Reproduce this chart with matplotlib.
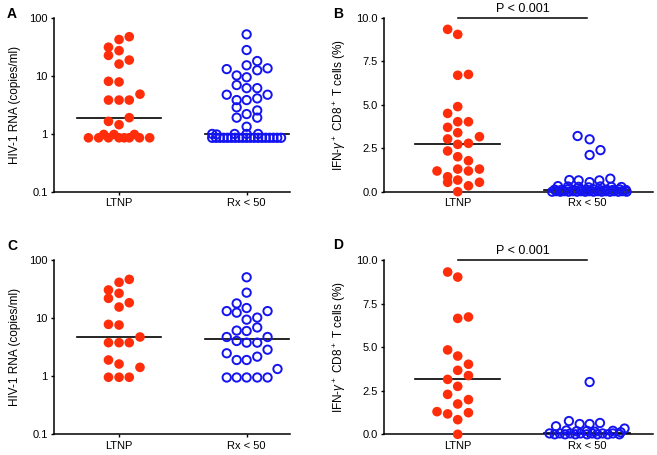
import matplotlib
matplotlib.use("Agg")
import matplotlib.pyplot as plt
from matplotlib.ticker import NullLocator
import numpy as np

plt.rcParams['font.family'] = ['Liberation Sans', 'DejaVu Sans']
plt.rcParams['mathtext.fontset'] = 'custom'
plt.rcParams['mathtext.rm'] = 'Liberation Sans'
plt.rcParams['mathtext.it'] = 'Liberation Sans:italic'

RED = '#ff2d0a'
BLUE = '#1414f0'

groups = ['LTNP', 'Rx < 50']

# A: HIV-1 RNA, all subjects (dx = horizontal column offset of each dot as drawn)
a_ltnp = [47, 42, 31, 27, 22.4, 18.6, 15.9, 8.0, 7.8, 4.8, 3.8, 3.8, 3.8, 1.89, 1.63, 1.43,
          0.85, 0.85, 0.97, 0.85, 0.97, 0.85, 0.85, 0.85, 0.97, 0.85, 0.85]
a_ltnp_dx = [0.08, 0, -0.083, 0, -0.083, 0.08, 0, -0.083, 0, 0.164, -0.083, 0, 0.08, 0.08, -0.083, 0,
             -0.24, -0.16, -0.12, -0.083, -0.04, 0, 0.04, 0.08, 0.12, 0.16, 0.24]
a_rx = [51.6, 27.7, 17.9, 15.1, 13.0, 12.4, 13.4, 10.1, 9.4, 6.9, 6.1, 6.1, 4.7, 4.7, 3.8, 3.8, 4.06,
        2.85, 2.52, 2.18, 1.89, 1.89, 1.32,
        0.99, 0.97, 0.99, 0.99, 0.99,
        0.85, 0.85, 0.85, 0.85, 0.85, 0.85, 0.85, 0.85, 0.85, 0.85,
        0.85, 0.85, 0.85, 0.85, 0.85, 0.85, 0.85, 0.85, 0.85]
a_rx_dx = [0, 0, 0.083, 0, -0.156, 0.083, 0.164, -0.078, 0, -0.078, 0, 0.083, -0.156, 0.164, -0.078, 0, 0.083,
           -0.078, 0.083, 0, -0.078, 0.083, 0,
           -0.27, -0.235, -0.094, 0, 0.09,
           -0.27, -0.24, -0.21, -0.18, -0.15, -0.12, -0.09, -0.06, -0.03, 0.0,
           0.03, 0.06, 0.09, 0.12, 0.15, 0.18, 0.21, 0.24, 0.27]

# B: IFN-gamma+ CD8+ T cells, all subjects
b_ltnp = [9.33, 9.04, 6.69, 6.74, 4.89, 4.5, 4.02, 4.02, 3.70, 3.39, 3.03, 3.16, 2.72, 2.78,
          2.34, 2.01, 1.78, 1.19, 0.86, 1.30, 1.19, 1.30, 0.54, 0.67, 0.34, 0.54, 0.0]
b_ltnp_dx = [-0.078, 0, 0, 0.083, 0, -0.078, 0, 0.083, -0.078, 0, -0.078, 0.168, 0, 0.083,
             -0.078, 0, 0.083, -0.16, -0.078, 0, 0.083, 0.168, -0.078, 0, 0.083, 0.168, 0]
b_rx = [3.2, 3.01, 2.11, 2.39,
        0.67, 0.65, 0.55, 0.65, 0.75,
        0.32, 0.3, 0.28, 0.25, 0.3, 0.28, 0.27,
        0.12, 0.1, 0.14, 0.1, 0.12, 0.1, 0.14, 0.1, 0.12, 0.1, 0.14, 0.1,
        0.0, 0.03, 0.0, 0.03, 0.0, 0.03, 0.0, 0.03, 0.0, 0.03,
        0.0, 0.03, 0.0, 0.03, 0.0, 0.03, 0.0, 0.03, 0.0]
b_rx_dx = [-0.073, 0.02, 0.02, 0.104,
           -0.137, -0.065, 0.02, 0.095, 0.18,
           -0.225, -0.147, -0.065, 0.012, 0.103, 0.188, 0.266,
           -0.25, -0.2, -0.15, -0.1, -0.05, 0.0, 0.05, 0.1, 0.15, 0.2, 0.25, 0.3,
           -0.27, -0.238, -0.206, -0.174, -0.142, -0.11, -0.078, -0.046, -0.014, 0.018,
           0.05, 0.082, 0.114, 0.146, 0.178, 0.21, 0.242, 0.274, 0.306]

# C: HIV-1 RNA, matched subset
c_ltnp = [46.4, 41.3, 30.5, 26.7, 21.9, 18.4, 15.5, 7.8, 7.6, 4.73, 3.78, 3.78, 3.78,
          1.90, 1.62, 1.42, 0.96, 0.96, 0.96]
c_ltnp_dx = [0.08, 0, -0.083, 0, -0.083, 0.08, 0, -0.083, 0, 0.164, -0.083, 0, 0.08,
             -0.083, 0, 0.164, -0.083, 0, 0.08]
c_rx = [50.4, 27.4, 17.9, 14.9, 13.2, 12.4, 13.2, 10.2, 9.4, 6.9, 6.1, 6.0, 4.73, 4.73, 4.04,
        3.78, 3.78, 2.86, 2.48, 2.17, 1.90, 1.90, 1.33, 0.95, 0.95, 0.95, 0.95, 0.95]
c_rx_dx = [0, 0, -0.078, 0, -0.156, -0.078, 0.164, 0.083, 0, 0.083, -0.078, 0, -0.156, 0.164, -0.078,
           0, 0.083, 0.164, -0.156, 0.083, -0.078, 0, 0.242, -0.156, -0.078, 0, 0.083, 0.164]

# D: IFN-gamma+ CD8+ T cells, matched subset
d_ltnp = [9.31, 9.02, 6.65, 6.73, 4.84, 4.49, 4.02, 3.67, 3.37, 3.15, 2.75, 2.29, 1.99, 1.74,
          1.30, 1.17, 1.24, 0.84, 0.0]
d_ltnp_dx = [-0.078, 0, 0, 0.083, -0.078, 0, 0.083, 0, 0.083, -0.078, 0, -0.078, 0.083, 0,
             -0.16, -0.078, 0.083, 0, 0]
d_rx = [3.0, 0.76, 0.59, 0.59, 0.65, 0.46, 0.33,
        0.22, 0.18, 0.2, 0.15, 0.2, 0.12,
        0.05, 0.0, 0.05, 0.0, 0.05, 0.0, 0.05, 0.0, 0.05, 0.0, 0.05, 0.0, 0.05, 0.0]
d_rx_dx = [0.02, -0.14, -0.057, 0.02, 0.10, -0.24, 0.29,
           -0.16, -0.08, 0.0, 0.06, 0.2, 0.26,
           -0.29, -0.25, -0.21, -0.17, -0.13, -0.09, -0.05, 0.0, 0.04, 0.08, 0.12, 0.16, 0.2, 0.25]


def dot_panel(ax, ltnp, ltnp_dx, rx, rx_dx):
    ax.scatter(1 + np.array(ltnp_dx), ltnp, s=48, color=RED, edgecolor='none', clip_on=False, zorder=3)
    ax.scatter(2 + np.array(rx_dx), rx, s=36, facecolor='none', edgecolor=BLUE, linewidth=1.4,
               clip_on=False, zorder=3)
    for x, vals in [(1, ltnp), (2, rx)]:
        m = np.median(vals)
        ax.plot([x - 0.33, x + 0.33], [m, m], color='black', lw=1.2, zorder=2)
    for s in ['top', 'right']:
        ax.spines[s].set_visible(False)
    for s in ['left', 'bottom']:
        ax.spines[s].set_linewidth(1.1)
    ax.set_xticks([1, 2])
    ax.set_xticklabels(groups)
    ax.tick_params(direction='out', length=2.5, width=1.0, labelsize=8, pad=2)


def rna_axis(ax):
    ax.set_yscale('log')
    ax.set_ylim(0.1, 100)
    ax.set_yticks([0.1, 1, 10, 100])
    ax.set_yticklabels(['0.1', '1', '10', '100'])
    ax.yaxis.set_minor_locator(NullLocator())
    ax.set_xlim(0.49, 2.34)
    ax.set_ylabel('HIV-1 RNA (copies/ml)', fontsize=8.5, labelpad=6)


def ifn_axis(ax):
    ax.set_ylim(0, 10)
    ax.set_yticks([0, 2.5, 5, 7.5, 10])
    ax.set_yticklabels(['0.0', '2.5', '5.0', '7.5', '10.0'])
    ax.set_xlim(0.43, 2.51)
    ax.set_ylabel(r'IFN-$\gamma^+$ CD8$^+$ T cells (%)', fontsize=8.5, labelpad=6)
    ax.plot([1, 2], [10, 10], color='black', lw=1.1, clip_on=False)
    ax.annotate('P < 0.001', xy=(1.5, 10), xytext=(0, 2), textcoords='offset points',
                ha='center', va='bottom', fontsize=9)


fig = plt.figure(figsize=(6.57, 4.55), dpi=100)
W, H = 657, 455
axA = fig.add_axes([54 / W, 1 - 191.7 / H, 236 / W, 174 / H])
axB = fig.add_axes([384 / W, 1 - 191.7 / H, 269 / W, 174 / H])
axC = fig.add_axes([54 / W, 1 - 434.3 / H, 236 / W, 174.3 / H])
axD = fig.add_axes([384 / W, 1 - 434.3 / H, 269 / W, 174.3 / H])

dot_panel(axA, a_ltnp, a_ltnp_dx, a_rx, a_rx_dx)
rna_axis(axA)
dot_panel(axB, b_ltnp, b_ltnp_dx, b_rx, b_rx_dx)
ifn_axis(axB)
dot_panel(axC, c_ltnp, c_ltnp_dx, c_rx, c_rx_dx)
rna_axis(axC)
dot_panel(axD, d_ltnp, d_ltnp_dx, d_rx, d_rx_dx)
ifn_axis(axD)

for letter, x, y in [('A', 7, 7), ('B', 333, 7), ('C', 7, 239), ('D', 333, 238)]:
    fig.text(x / W, 1 - y / H, letter, fontsize=10, fontweight='bold', va='top', ha='left')

fig.savefig('out.png', dpi=100)
